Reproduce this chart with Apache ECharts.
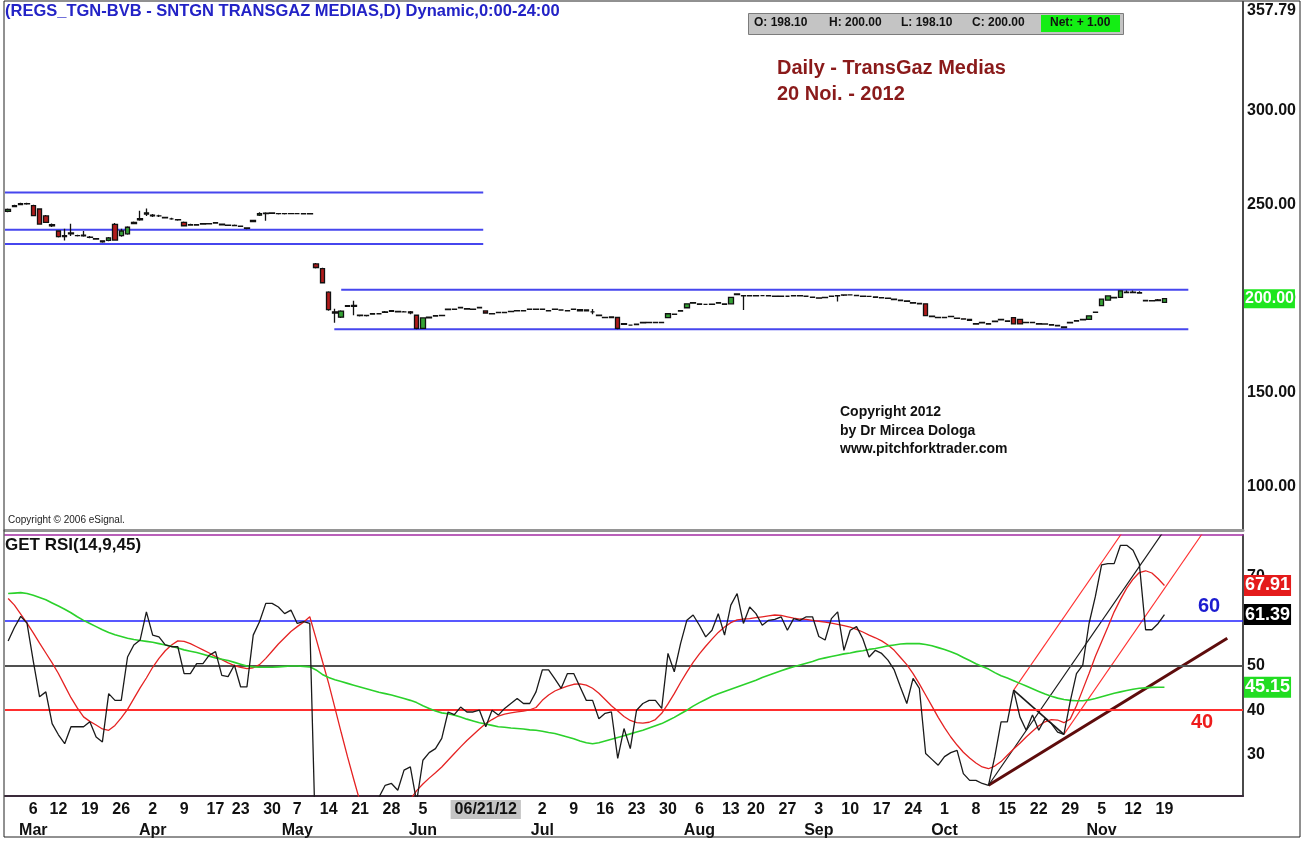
<!DOCTYPE html>
<html>
<head>
<meta charset="utf-8">
<title>TransGaz Medias - Daily</title>
<script src="https://cdn.jsdelivr.net/npm/echarts@6.0.0/dist/echarts.min.js"></script>
<style>
  html, body { margin: 0; padding: 0; background: #fff; }
  #chart { width: 1313px; height: 841px; }
</style>
</head>
<body>
<div id="chart"></div>
<script>
var FONT = '"Liberation Sans", Arial, sans-serif';

// calendar
var firstDay = '2012-02-28';
var holidays = ['2012-03-05', '2012-04-16', '2012-05-01', '2012-06-04', '2012-08-15', '2012-11-30'];
var futureDays = 12;
var monthNames = ['Jan', 'Feb', 'Mar', 'Apr', 'May', 'Jun', 'Jul', 'Aug', 'Sep', 'Oct', 'Nov', 'Dec'];
var cursorDay = '2012-06-19';
var cursorText = '06/21/12';
var hiddenDays = ['2012-06-11', '2012-06-18', '2012-06-25'];

// daily prices
var open = [
  246.5, 249, 250, 250.5, 249.5, 247.7, 244, 239.4, 236, 233.6,
  234.5, 233.6, 233.8, 232.8, 232, 230.8, 231, 239.5, 233.5, 234.5,
  240, 242, 245, 244, 244, 243, 242.5, 242, 240.6, 239.2,
  239.2, 239.7, 239.8, 240.2, 239.6, 239.1, 239, 238.6, 237.6, 241,
  244.4, 245.2, 245.4, 245.3, 245.2, 245.3, 245.2, 245.2, 245.1, 218.5,
  216, 203.5, 193, 190.2, 196, 196.5, 191.2, 191, 191.8, 192,
  192.8, 193.3, 193.2, 193, 193, 191.2, 184.2, 189.8, 190.8, 191,
  194.2, 194.4, 195.2, 194.7, 194.4, 195.2, 193.5, 192.1, 192.6, 192.6,
  193.1, 193.5, 193.5, 194.3, 194.4, 194.4, 193.7, 194.3, 194, 193.7,
  194.4, 194.2, 194, 193, 191.2, 190.1, 190.3, 190, 186.4, 186,
  186.2, 187.2, 187.3, 187.3, 187.3, 189.9, 191.8, 193.4, 195.2, 197.6,
  197.2, 197, 197.1, 197.6, 197.2, 197.3, 202.2, 201.6, 201.5, 201.5,
  201.6, 201.5, 201.4, 201.2, 201.3, 201.5, 201.5, 201.3, 200.8, 200.4,
  200.6, 201.2, 201.5, 202, 202, 201.7, 201.4, 201.2, 200.9, 200.6,
  200.3, 199.7, 199.2, 198.8, 197.9, 197.5, 197.3, 190.7, 190.1, 190,
  190.6, 189.7, 189.3, 189, 186.8, 187.2, 186.7, 187.8, 188.8, 188.2,
  189.9, 189, 187.3, 187.3, 186.7, 186.6, 186.2, 185.8, 185, 187.2,
  188.1, 188.8, 189, 192.7, 196.3, 199.2, 200.5, 200.7, 203.3, 203.3,
  203.2, 199.1, 199, 199.4, 198.1
];
var high = [
  248, 250, 251, 251, 250, 248, 244.5, 240, 236.3, 237.2,
  239.9, 234, 236, 233.3, 232.3, 231.1, 232.8, 240.2, 237.2, 238.5,
  241, 246.8, 248, 245, 244.6, 243.5, 243, 242.3, 241, 239.8,
  239.6, 240.3, 240.2, 240.8, 239.8, 239.4, 239.4, 238.9, 237.8, 242,
  246, 246, 246, 245.6, 245.6, 245.6, 245.5, 245.5, 245.4, 219,
  216.5, 204, 194.7, 193.8, 196.6, 198.9, 191.5, 191.4, 192.3, 192.3,
  193.4, 193.8, 193.5, 193.4, 193.5, 191.5, 190.2, 190.4, 191.2, 191.3,
  194.8, 194.8, 195.7, 195, 194.8, 195.7, 193.7, 192.4, 193, 193,
  193.5, 193.9, 193.9, 194.8, 194.8, 194.8, 194, 194.8, 194.4, 194,
  194.8, 194.5, 194.3, 194.5, 191.5, 190.4, 190.6, 190.4, 187, 186.3,
  186.7, 187.6, 187.6, 187.6, 187.6, 192.2, 192, 193.8, 197.5, 198.1,
  197.4, 197.3, 197.3, 198.1, 197.4, 200.9, 202.8, 202, 201.9, 201.9,
  201.9, 201.8, 201.7, 201.6, 201.6, 201.8, 201.8, 201.6, 201.1, 200.6,
  200.9, 201.6, 201.8, 202.3, 202.4, 202, 201.7, 201.5, 201.1, 200.8,
  200.6, 200, 199.5, 199, 198.2, 197.8, 197.5, 191, 190.4, 190.3,
  190.9, 190, 189.6, 189.2, 187, 187.6, 187, 188.4, 189.3, 188.5,
  190.2, 189.2, 187.7, 187.7, 187, 186.9, 186.5, 186, 185.2, 187.6,
  188.5, 189.3, 191.1, 193.2, 199.9, 201.7, 201, 204.4, 204.3, 204.3,
  204, 199.4, 199.3, 199.8, 200
];
var low = [
  246, 248.8, 249.8, 250, 243.8, 239.4, 240.2, 238.2, 232.5, 230.9,
  233.4, 233.1, 233, 232.2, 231.3, 229.8, 230.5, 230.8, 233, 234,
  239.6, 241.5, 244, 243.5, 243.4, 242.6, 242, 241.5, 238.6, 239,
  238.9, 239.5, 239.6, 240, 239, 238.7, 238.6, 238.1, 237, 240.8,
  244, 241.5, 245, 244.8, 244.8, 244.9, 244.9, 244.8, 244.8, 216,
  208.3, 193.6, 187.2, 189.8, 195.8, 191.2, 190.6, 190.6, 191.5, 191.6,
  192.5, 193, 192.7, 192.6, 191.8, 183.8, 184, 189.6, 190.5, 190.7,
  194, 194, 195, 194.2, 194.1, 195, 192.2, 191.7, 192.3, 192.3,
  192.8, 193.2, 193.2, 194, 194.1, 194, 193.3, 194.1, 193.7, 193.3,
  194.1, 193.4, 193.3, 191.8, 190.8, 189.7, 189.8, 183.8, 186.2, 185.7,
  186, 187, 187, 187, 187, 189.7, 191.4, 193.2, 195, 197.4,
  196.8, 196.8, 196.8, 197.5, 196.8, 197.1, 202, 194, 201.3, 201.3,
  201.3, 201.2, 201, 201, 201, 201.3, 201.3, 201, 200.5, 200,
  200.3, 201, 198.5, 201.5, 201.7, 201.4, 201, 200.9, 200.5, 200.2,
  199.9, 199.3, 198.8, 198.3, 197.5, 197, 190.8, 190.2, 189.6, 189.6,
  190.2, 189.3, 188.9, 188.2, 186.2, 187, 186.2, 187.6, 188.6, 187.8,
  186.3, 186.3, 187, 187, 186.3, 186.2, 185.8, 185.3, 184.5, 187,
  187.9, 188.6, 188.8, 192.5, 196, 199, 200.3, 200.5, 203.1, 203.1,
  202.8, 198.7, 198.6, 198.8, 198.1
];
var close = [
  247.5, 249.5, 250.5, 250.4, 244.2, 239.7, 240.6, 238.8, 233, 233,
  235, 233.5, 233.4, 232.6, 231.7, 230.3, 232.3, 231.2, 236, 238,
  240.6, 242.6, 245.7, 244.5, 244, 243.2, 242.5, 241.9, 238.8, 239.4,
  239.4, 239.9, 239.9, 240.4, 239.3, 239, 238.9, 238.5, 237.4, 241.6,
  245.2, 245.5, 245.6, 245.2, 245.3, 245.2, 245.2, 245.1, 245.2, 216.6,
  208.5, 194.2, 192.4, 193.4, 196.3, 196, 191, 191.1, 192, 192,
  193, 193.6, 193, 193, 192.5, 184.2, 189.8, 190.2, 191, 191.1,
  194.5, 194.5, 195.4, 194.5, 194.5, 195.4, 192.4, 192, 192.7, 192.7,
  193.2, 193.6, 193.6, 194.5, 194.5, 194.5, 193.6, 194.5, 194, 193.6,
  194.5, 193.6, 193.5, 193, 191, 190, 190, 184.2, 186.7, 186,
  186.5, 187.4, 187.4, 187.4, 187.4, 192, 191.7, 193.6, 197.3, 197.9,
  197, 197, 197, 197.9, 197, 200.7, 202.5, 201.5, 201.6, 201.6,
  201.6, 201.6, 201.3, 201.3, 201.3, 201.6, 201.6, 201.3, 200.7, 200.3,
  200.7, 201.3, 201.6, 201.9, 202, 201.6, 201.3, 201.2, 200.7, 200.5,
  200.2, 199.5, 199, 198.6, 197.7, 197.3, 191, 190.5, 189.9, 189.9,
  190.5, 189.5, 189.2, 188.5, 186.5, 187.4, 186.5, 188.1, 189, 188,
  186.6, 186.6, 187.4, 187.4, 186.5, 186.5, 186, 185.6, 184.7, 187.4,
  188.3, 189, 190.9, 192.9, 199.8, 201.5, 200.7, 204.2, 203.5, 203.5,
  203, 198.9, 198.9, 199, 200
];

// GET RSI(14,9,45): RSI, 9 day average, 45 day average
var rsi = [
  55.5, 58.5, 61, 59.5, 51, 43, 44.1, 37, 34.5, 32.5,
  36.3, 36.3, 36.3, 37.4, 34, 32.9, 43.7, 42.2, 42.2, 51.9,
  54.6, 55.7, 62, 56.8, 56.4, 54.6, 54.2, 54.2, 48.2, 48.2,
  50.4, 50.4, 52.3, 53.1, 47.8, 47.5, 50.1, 45.2, 45.2, 56.8,
  59.8, 63.9, 63.9, 63.1, 61.6, 62.4, 59.4, 59.8, 59.4, 6,
  8, 9, 8, 10, 12, 11, 14, 16, 18, 20.5,
  23.2, 23.6, 22.1, 26.6, 27.3, 19.5, 28.8, 30.5, 31.4, 33.7,
  39.6, 39, 40.7, 39.6, 39.6, 40, 36.3, 40, 38.9, 40.4,
  41.5, 42.6, 41.5, 41.5, 44.1, 49, 49, 47, 44.9, 48.2,
  48.2, 45.2, 42.2, 42.2, 38.1, 39.3, 39.6, 29.2, 35.9, 31.4,
  40, 41.5, 42.2, 42.2, 40.4, 52.7, 48.6, 54.9, 60.1, 61.3,
  59, 56.4, 57.9, 61.6, 56.8, 63.5, 66.1, 59.4, 63.1, 61.6,
  59, 60.1, 60.3, 60.9, 57.9, 60.5, 60.1, 60.9, 60.9, 56.5,
  55.7, 60.5, 62, 53.4, 57.9, 58.7, 56, 51.9, 53.4, 52.7,
  51.2, 49, 45.2, 41.5, 47.1, 44.9, 30.3, 29, 27.7, 29.6,
  30.5, 31, 25.8, 24.3, 24.3, 23.6, 23.2, 29.6, 37.4, 37.4,
  44.5, 38.5, 35.5, 38.9, 35.5, 38.1, 37, 35.1, 34.6, 41.9,
  48.2, 50.1, 59.4, 65.4, 72.5, 72.8, 72.8, 76.9, 76.9, 75.8,
  72.8, 58, 58, 59.4, 61.39
];
var rsiAvg = [
  65, 63.5, 61.5, 59.5, 57.3, 55, 52.8, 50.6, 48.2, 45.5,
  42.8, 40.5, 38.5, 37.5, 36.7, 35.8, 35.5, 36.6, 38.3, 40.2,
  42.6, 45, 47.2, 49.6, 51.6, 53.3, 54.6, 55.5, 55.4, 54.9,
  54.2, 53.5, 52.8, 52, 51.3, 50.6, 50, 49.6, 49.3, 49.5,
  50.2, 51.6, 53.2, 54.8, 56.2, 57.6, 58.7, 59.7, 60.9, 56,
  51, 46, 40.5, 35, 29.6, 24.5, 19.5, 15.5, 13, 12,
  12.5, 14, 15.8, 18, 20, 22, 23.5, 24.8, 26, 27.3,
  28.8, 30.3, 31.8, 33.2, 34.5, 35.8, 37, 37.9, 38.7, 39.1,
  39.4, 39.6, 39.8, 40.1, 40.6, 42.2, 43.4, 44.3, 44.9, 45.4,
  45.8, 45.9, 45.6, 44.9, 43.8, 42.4, 41, 39.8, 38.6, 37.7,
  37.2, 37.1, 37.3, 37.9, 39.3, 41.4, 43.7, 46.2, 48.5, 50.7,
  52.6, 54.3, 55.9, 57.4, 58.6, 59.6, 60.2, 60.4, 60.5, 60.7,
  60.9, 61.1, 61.3, 61.2, 60.9, 60.6, 60.4, 60.3, 60.1, 59.9,
  59.7, 59.5, 59.2, 58.9, 58.6, 58.1, 57.5, 56.8, 56.2, 55.5,
  54.6, 53.4, 51.8, 50.2, 48.2, 45.9, 43.4, 40.9, 38.4, 36.1,
  34, 32.2, 30.6, 29.3, 28.2, 27.3, 26.9, 27.5, 28.5, 29.9,
  31.3, 32.6, 34, 35.3, 36.5, 37.4, 37.9, 37.8, 37.2, 38,
  41, 44.6, 48.2, 52, 55.3, 58.6, 62, 64.8, 67.3, 69.3,
  70.8, 71.2, 70.7, 69.4, 67.91
];
var rsiLong = [
  66.1, 66.2, 66.3, 66.1, 65.7, 65.2, 64.7, 64, 63.3, 62.6,
  61.8, 60.9, 60.1, 59.4, 58.7, 58, 57.4, 56.9, 56.5, 56.1,
  55.8, 55.6, 55.4, 55.2, 54.9, 54.6, 54.3, 53.9, 53.5, 53.2,
  52.9, 52.5, 52.1, 51.7, 51.4, 51.1, 50.7, 50.3, 49.9, 49.7,
  49.6, 49.6, 49.6, 49.7, 49.8, 49.9, 49.9, 49.8, 49.7, 49,
  48, 47.3, 46.8, 46.4, 46, 45.6, 45.2, 44.8, 44.4, 44,
  43.7, 43.4, 43, 42.6, 42.2, 41.7, 41, 40.4, 39.8, 39.4,
  39.2, 38.9, 38.5, 38, 37.6, 37.2, 36.9, 36.6, 36.3, 36.2,
  36, 35.9, 35.8, 35.6, 35.5, 35.3, 35, 34.8, 34.4, 34,
  33.6, 33.1, 32.7, 32.5, 32.7, 33.1, 33.5, 33.9, 34.3, 34.7,
  35.1, 35.5, 36, 36.5, 37, 37.7, 38.4, 39.2, 40, 40.9,
  41.7, 42.4, 43.1, 43.7, 44.2, 44.7, 45.2, 45.7, 46.2, 46.7,
  47.3, 47.8, 48.3, 48.8, 49.3, 49.7, 50.1, 50.5, 50.9, 51.4,
  51.7, 52, 52.3, 52.6, 52.8, 53.1, 53.3, 53.6, 53.8, 54.1,
  54.4, 54.6, 54.8, 54.9, 54.9, 54.9, 54.7, 54.4, 54, 53.6,
  53.1, 52.5, 51.8, 51.1, 50.4, 49.8, 49.2, 48.4, 47.7, 47.2,
  46.6, 46, 45.4, 44.8, 44.2, 43.6, 43.1, 42.7, 42.4, 42.2,
  42.1, 42.1, 42.3, 42.6, 43, 43.4, 43.8, 44.1, 44.4, 44.7,
  44.9, 45, 45.1, 45.15, 45.15
];

// axis ticks and levels
var priceTicks = [100, 150, 200, 250, 300, 357.79];
var rsiTicks = [30, 40, 50, 60, 70];
var rsiLevels = [60, 50, 40];

// hand drawn lines, x in bar numbers (0 = first day)
var priceLevels = [
  [[-0.5, 256.5], [75.6, 256.5]],
  [[-0.5, 236.7], [75.6, 236.7]],
  [[-0.5, 229.1], [75.6, 229.1]],
  [[53, 204.7], [187.8, 204.7]],
  [[51.9, 183.7], [187.8, 183.7]]
];
var supportLine = [[156, 23.2], [194, 56.1]];
var medianLine = [[156, 23.2], [184, 80.3]];
var upperTine = [[160, 44.5], [178, 81.2]];
var lowerTine = [[168, 34.6], [191, 81.5]];
var pivotLine = [[160, 44.5], [168, 34.6]];

function tradingDays(start, count) {
  var out = [];
  var d = new Date(start + 'T00:00:00Z');
  while (out.length < count) {
    var s = d.toISOString().slice(0, 10);
    var wd = d.getUTCDay();
    if (wd !== 0 && wd !== 6 && holidays.indexOf(s) < 0) out.push(s);
    d.setUTCDate(d.getUTCDate() + 1);
  }
  return out;
}

var days = tradingDays(firstDay, close.length + futureDays);
var nBars = days.length;
var last = close.length - 1;

// week labels (first day of each week) with month under the first one of a month
var labelText = {};
var prevMonth = new Date(days[0] + 'T00:00:00Z').getUTCMonth();
for (var i = 1; i < close.length; i++) {
  var d = new Date(days[i] + 'T00:00:00Z');
  var p = new Date(days[i - 1] + 'T00:00:00Z');
  if (d.getUTCDay() < p.getUTCDay() && hiddenDays.indexOf(days[i]) < 0) {
    var t = String(d.getUTCDate());
    if (d.getUTCMonth() !== prevMonth) {
      t += '\n' + monthNames[d.getUTCMonth()];
      prevMonth = d.getUTCMonth();
    }
    labelText[days[i]] = t;
  }
}
labelText[cursorDay] = '{hl|' + cursorText + '}';

var candles = open.map(function (o, i) { return [o, close[i], low[i], high[i]]; });

var noLine = { width: 0, color: 'rgba(0,0,0,0)' };

function valueLabel(bg, size) {
  return {
    show: true, position: 'end', distance: 1,
    formatter: function (p) { return p.value.toFixed(2); },
    backgroundColor: bg, color: '#fff',
    fontFamily: FONT, fontWeight: 'bold', fontSize: size,
    padding: [2, 1, 1, 1]
  };
}

function drawn(data, xIdx, yIdx, color, width) {
  return {
    type: 'line', xAxisIndex: xIdx, yAxisIndex: yIdx, data: data,
    symbol: 'none', clip: true, silent: true, z: 4,
    lineStyle: { color: color, width: width }
  };
}

var chart = echarts.init(document.getElementById('chart'), null, { renderer: 'canvas' });

var series = [
  {
    name: 'Price', type: 'candlestick', xAxisIndex: 0, yAxisIndex: 0,
    data: candles, barWidth: 5, z: 5,
    itemStyle: {
      color: '#35a335', color0: '#b01c1c',
      borderColor: '#111', borderColor0: '#111', borderColorDoji: '#111',
      borderWidth: 1.3
    },
    markLine: {
      symbol: 'none', silent: true, animation: false,
      lineStyle: noLine,
      label: valueLabel('#1ee61e', 16),
      data: [{ yAxis: close[last] }]
    }
  },
  {
    name: 'RSI', type: 'line', xAxisIndex: 1, yAxisIndex: 1, data: rsi,
    symbol: 'none', clip: true, z: 6,
    lineStyle: { color: '#1a1a1a', width: 1.3 },
    markLine: {
      symbol: 'none', silent: true, animation: false,
      data: [
        { yAxis: rsiLevels[0], label: { show: false }, lineStyle: { color: '#2020ff', width: 1.6, type: 'solid' } },
        { yAxis: rsiLevels[1], label: { show: false }, lineStyle: { color: '#505050', width: 2, type: 'solid' } },
        { yAxis: rsiLevels[2], label: { show: false }, lineStyle: { color: '#ff2e2e', width: 2, type: 'solid' } },
        { yAxis: rsi[last], label: valueLabel('#000', 18), lineStyle: noLine }
      ]
    }
  },
  {
    name: 'RSI avg 9', type: 'line', xAxisIndex: 1, yAxisIndex: 1, data: rsiAvg,
    symbol: 'none', clip: true, z: 5,
    lineStyle: { color: '#e52222', width: 1.3 },
    markLine: {
      symbol: 'none', silent: true, animation: false,
      lineStyle: noLine,
      label: valueLabel('#e41b1b', 18),
      data: [{ yAxis: rsiAvg[last] }]
    }
  },
  {
    name: 'RSI avg 45', type: 'line', xAxisIndex: 1, yAxisIndex: 1, data: rsiLong,
    symbol: 'none', clip: true, z: 5,
    lineStyle: { color: '#2bd12b', width: 1.6 },
    markLine: {
      symbol: 'none', silent: true, animation: false,
      lineStyle: noLine,
      label: valueLabel('#22dd22', 18),
      data: [{ yAxis: rsiLong[last] }]
    }
  },
  drawn(supportLine, 3, 1, '#5e0c0c', 3),
  drawn(medianLine, 3, 1, '#1a1a1a', 1.2),
  drawn(upperTine, 3, 1, '#ff3030', 1.1),
  drawn(lowerTine, 3, 1, '#ff3030', 1.1),
  drawn(pivotLine, 3, 1, '#1a1a1a', 1.6)
];
priceLevels.forEach(function (seg) {
  series.push(drawn(seg, 2, 0, '#4646ee', 2));
});

var labelFont = { fontFamily: FONT, fontWeight: 'bold', fontSize: 16, color: '#111' };

var option = {
  backgroundColor: '#fff',
  animation: false,
  grid: [
    { left: 5, width: 1238, top: 2, height: 528, containLabel: false, outerBoundsMode: 'none' },
    { left: 5, width: 1238, top: 535, height: 261, containLabel: false, outerBoundsMode: 'none' }
  ],
  xAxis: [
    {
      type: 'category', gridIndex: 0, data: days, boundaryGap: true,
      axisLine: { show: true, onZero: false, lineStyle: { color: '#959595', width: 3 } },
      axisTick: { show: false }, axisLabel: { show: false }, splitLine: { show: false }
    },
    {
      type: 'category', gridIndex: 1, data: days, boundaryGap: true,
      axisLine: { show: true, onZero: false, lineStyle: { color: '#3a2a3a', width: 2 } },
      axisTick: { show: false }, splitLine: { show: false },
      axisLabel: {
        show: true, margin: 3, lineHeight: 21,
        fontFamily: FONT, fontWeight: 'bold', fontSize: 16, color: '#111',
        interval: function (index, value) { return labelText.hasOwnProperty(value); },
        formatter: function (value) { return labelText[value] || ''; },
        rich: {
          hl: {
            backgroundColor: '#c4c4c4', padding: [2, 4, 1, 4],
            fontFamily: FONT, fontWeight: 'bold', fontSize: 16, color: '#111'
          }
        }
      }
    },
    {
      type: 'value', gridIndex: 0, min: -0.5, max: nBars - 0.5, show: false, position: 'top',
      axisLine: { onZero: false }
    },
    {
      type: 'value', gridIndex: 1, min: -0.5, max: nBars - 0.5, position: 'top',
      axisLine: { show: true, onZero: false, lineStyle: { color: '#a32ca3', width: 1.5 } },
      axisTick: { show: false }, axisLabel: { show: false }, splitLine: { show: false }
    }
  ],
  yAxis: [
    {
      type: 'value', gridIndex: 0, position: 'right', min: 77, max: 357.79, scale: true,
      axisLine: { show: true, onZero: false, lineStyle: { color: '#4a4a4a', width: 2 } },
      axisTick: { show: false }, splitLine: { show: false },
      axisLabel: Object.assign({
        customValues: priceTicks, margin: 4,
        formatter: function (v) {
          var s = v.toFixed(2);
          return v === priceTicks[priceTicks.length - 1] ? '{top|' + s + '}' : s;
        },
        rich: { top: Object.assign({ padding: [18, 0, 0, 0] }, labelFont) }
      }, labelFont)
    },
    {
      type: 'value', gridIndex: 1, position: 'right', min: 20.8, max: 79.2, scale: true,
      axisLine: { show: true, onZero: false, lineStyle: { color: '#4a4a4a', width: 2 } },
      axisTick: { show: false }, splitLine: { show: false },
      axisLabel: Object.assign({
        customValues: rsiTicks, margin: 4,
        formatter: function (v) { return String(v); }
      }, labelFont)
    }
  ],
  graphic: [
    {
      type: 'rect', silent: true, z: 100,
      shape: { x: 4, y: 1, width: 1296, height: 836 },
      style: { fill: 'none', stroke: '#222', lineWidth: 1 }
    },
    {
      type: 'text', left: 5, top: 3, z: 50,
      style: {
        text: '(REGS_TGN-BVB - SNTGN TRANSGAZ MEDIAS,D) Dynamic,0:00-24:00',
        fill: '#2323c6', fontFamily: FONT, fontWeight: 'bold', fontSize: 16.5
      }
    },
    {
      type: 'rect', z: 50, left: 748, top: 13,
      shape: { width: 375, height: 21 },
      style: { fill: '#c4c4c4', stroke: '#7c7c7c', lineWidth: 1 }
    },
    {
      type: 'rect', z: 51, left: 1041, top: 15,
      shape: { width: 79, height: 17 },
      style: { fill: '#14ee14' }
    },
    {
      type: 'text', z: 52, left: 754, top: 17,
      style: { text: 'O: ' + open[last].toFixed(2), fill: '#111', fontFamily: FONT, fontWeight: 'bold', fontSize: 12 }
    },
    {
      type: 'text', z: 52, left: 829, top: 17,
      style: { text: 'H: ' + high[last].toFixed(2), fill: '#111', fontFamily: FONT, fontWeight: 'bold', fontSize: 12 }
    },
    {
      type: 'text', z: 52, left: 901, top: 17,
      style: { text: 'L: ' + low[last].toFixed(2), fill: '#111', fontFamily: FONT, fontWeight: 'bold', fontSize: 12 }
    },
    {
      type: 'text', z: 52, left: 972, top: 17,
      style: { text: 'C: ' + close[last].toFixed(2), fill: '#111', fontFamily: FONT, fontWeight: 'bold', fontSize: 12 }
    },
    {
      type: 'text', z: 52, left: 1050, top: 17,
      style: { text: 'Net: + ' + (close[last] - close[last - 1]).toFixed(2), fill: '#111', fontFamily: FONT, fontWeight: 'bold', fontSize: 12 }
    },
    {
      type: 'text', z: 50, left: 777, top: 55,
      style: {
        text: 'Daily - TransGaz Medias\n20 Noi. - 2012', lineHeight: 26,
        fill: '#8a1a1a', fontFamily: FONT, fontWeight: 'bold', fontSize: 20
      }
    },
    {
      type: 'text', z: 50, left: 840, top: 403,
      style: {
        text: 'Copyright 2012\nby Dr Mircea Dologa\nwww.pitchforktrader.com', lineHeight: 18.5,
        fill: '#111', fontFamily: FONT, fontWeight: 'bold', fontSize: 14
      }
    },
    {
      type: 'text', z: 50, left: 8, top: 515,
      style: { text: 'Copyright \u00a9 2006 eSignal.', fill: '#222', fontFamily: FONT, fontSize: 10 }
    },
    {
      type: 'text', z: 50, left: 5, top: 537,
      style: { text: 'GET RSI(14,9,45)', fill: '#111', fontFamily: FONT, fontWeight: 'bold', fontSize: 17 }
    },
    {
      type: 'text', z: 50, left: 1198, top: 596,
      style: { text: '60', fill: '#1c1cd0', fontFamily: FONT, fontWeight: 'bold', fontSize: 20 }
    },
    {
      type: 'text', z: 50, left: 1191, top: 712,
      style: { text: '40', fill: '#ee1c1c', fontFamily: FONT, fontWeight: 'bold', fontSize: 20 }
    }
  ],
  series: series
};

chart.setOption(option);
</script>
</body>
</html>
